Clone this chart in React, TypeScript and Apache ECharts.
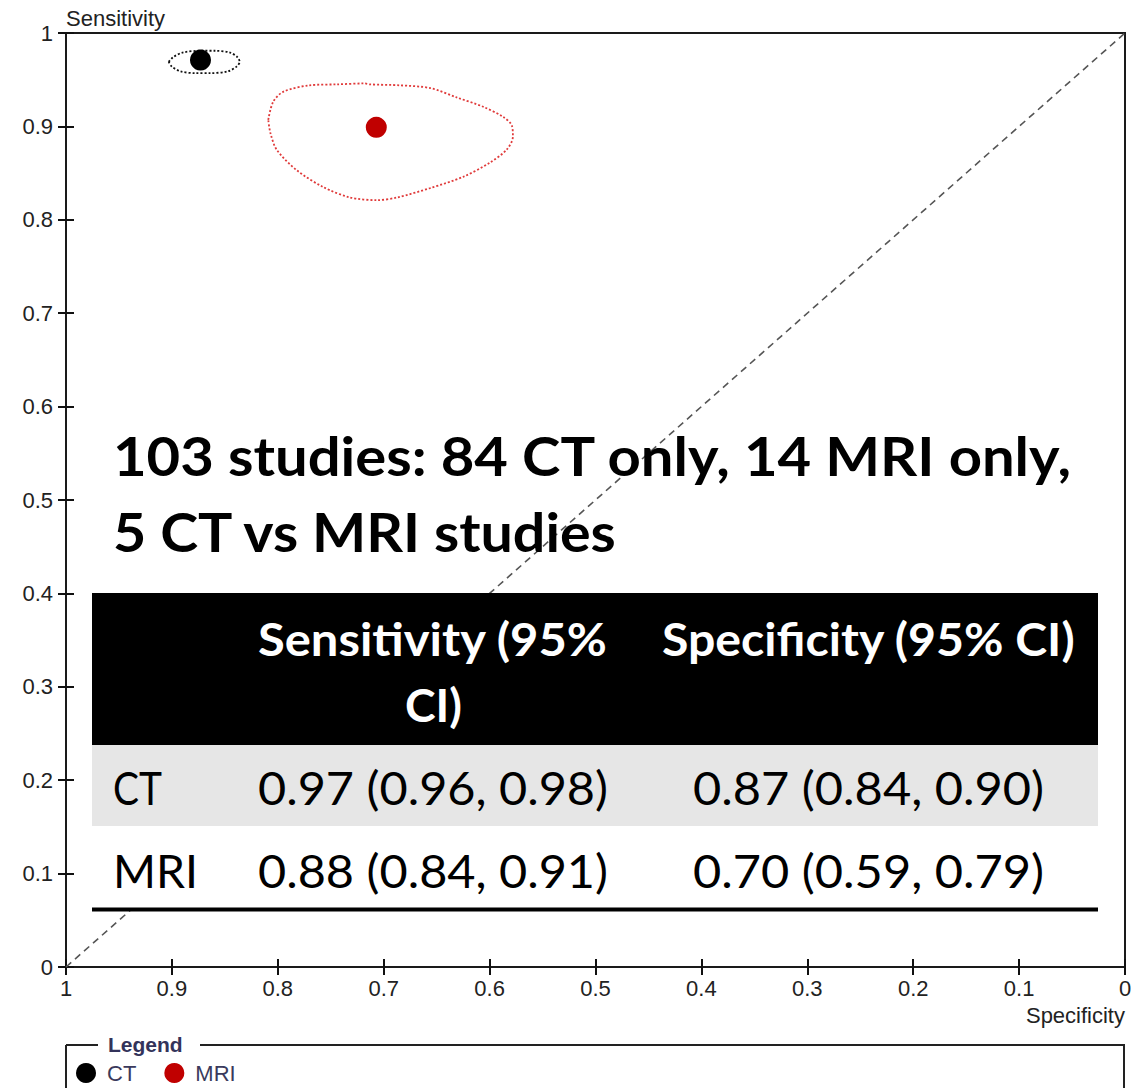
import React, { useEffect, useRef } from "react";
import * as echarts from "echarts";

// ---------- data ----------
const AXIS_TICKS = [0, 0.1, 0.2, 0.3, 0.4, 0.5, 0.6, 0.7, 0.8, 0.9, 1];
const SERIES_NAMES = ["CT", "MRI"];
const CT_POINT = [0.873, 0.971]; // [specificity, sensitivity]
const MRI_POINT = [0.707, 0.899];
const CT_REGION_SPEC = [0.903, 0.899, 0.89, 0.873, 0.859, 0.845, 0.838, 0.836, 0.839, 0.847, 0.864, 0.878, 0.892, 0.9, 0.903];
const CT_REGION_SENS = [0.969, 0.974, 0.979, 0.981, 0.981, 0.979, 0.974, 0.969, 0.964, 0.959, 0.957, 0.957, 0.959, 0.964, 0.969];
const MRI_REGION_SPEC = [0.809, 0.8045, 0.795, 0.77, 0.744, 0.718, 0.713, 0.685, 0.656, 0.631, 0.606, 0.587, 0.579, 0.578, 0.584, 0.6, 0.625, 0.656, 0.687, 0.706, 0.732, 0.757, 0.782, 0.801, 0.807, 0.809];
const MRI_REGION_SENS = [0.907, 0.926, 0.937, 0.944, 0.945, 0.946, 0.945, 0.944, 0.941, 0.931, 0.921, 0.91, 0.901, 0.889, 0.875, 0.861, 0.846, 0.834, 0.824, 0.821, 0.824, 0.835, 0.853, 0.875, 0.893, 0.907];
const DIAGONAL_SPEC = [1, 0];
const DIAGONAL_SENS = [0, 1];
const TITLE_LINES = ["103 studies: 84 CT only, 14 MRI only,", "5 CT vs MRI studies"];
const HEADER_SENS = ["Sensitivity (95%", "CI)"];
const HEADER_SPEC = "Specificity (95% CI)";
const ROW_LABELS = ["CT", "MRI"];
const ROW_SENS = ["0.97 (0.96, 0.98)", "0.88 (0.84, 0.91)"];
const ROW_SPEC = ["0.87 (0.84, 0.90)", "0.70 (0.59, 0.79)"];

// ---------- helpers ----------
const zip = (a: number[], b: number[]) => a.map((v, i) => [v, b[i]]);
let ctx: CanvasRenderingContext2D | null = null;
const measure = (text: string, font: string) => {
  if (!ctx) ctx = document.createElement("canvas").getContext("2d");
  ctx!.font = font;
  return ctx!.measureText(text).width;
};
const fitText = (
  text: string,
  left: number,
  right: number,
  cy: number,
  size: number,
  weight: string,
  color: string
) => {
  const family = "Lato";
  const w = measure(text, `${weight} ${size}px ${family}`) || 1;
  return {
    type: "text",
    x: left,
    y: cy,
    scaleX: (right - left) / w,
    scaleY: 1,
    z: 110,
    style: {
      text,
      x: 0,
      y: 0,
      fill: color,
      fontSize: size,
      fontFamily: family,
      fontWeight: weight,
      align: "left",
      verticalAlign: "middle",
      textAlign: "left",
      textVerticalAlign: "middle",
    },
  };
};
const hline = (x1: number, x2: number, y: number, color: string, w: number) => ({
  type: "line",
  z: 105,
  shape: { x1, y1: y, x2, y2: y },
  style: { stroke: color, lineWidth: w },
});
const vline = (x: number, y1: number, y2: number, color: string, w: number) => ({
  type: "line",
  z: 105,
  shape: { x1: x, y1, x2: x, y2 },
  style: { stroke: color, lineWidth: w },
});

const AXIS_FONT = "'Liberation Sans', Arial, sans-serif";
const fmt = (v: number) => (v === 0 ? "0" : v === 1 ? "1" : v.toFixed(1));

export default function App() {
  const ref = useRef<HTMLDivElement>(null);
  useEffect(() => {
    const chart = echarts.init(ref.current!, null, { renderer: "svg" });
    const baseAxis = {
      type: "value",
      min: AXIS_TICKS[0],
      max: AXIS_TICKS[AXIS_TICKS.length - 1],
      interval: 0.1,
      splitLine: { show: false },
      offset: -8,
      axisLine: { show: false, onZero: false },
      axisTick: { show: true, length: 16, lineStyle: { color: "#111", width: 2 } },
    };
    const option: any = {
      animation: false,
      backgroundColor: "#fff",
      grid: {
        left: 66,
        top: 33,
        width: 1059,
        height: 934,
        show: true,
        borderColor: "#1a1a1a",
        borderWidth: 2,
        backgroundColor: "transparent",
      },
      xAxis: {
        ...baseAxis,
        inverse: true,
        position: "bottom",
        axisLabel: { margin: 18, fontSize: 22, color: "#222", fontFamily: AXIS_FONT, formatter: fmt },
      },
      yAxis: {
        ...baseAxis,
        position: "left",
        axisLabel: { margin: 21, fontSize: 22, color: "#222", fontFamily: AXIS_FONT, formatter: fmt },
      },
      legend: {
        data: SERIES_NAMES,
        left: 71,
        top: 1057,
        orient: "horizontal",
        icon: "circle",
        itemWidth: 20,
        itemHeight: 20,
        itemGap: 28,
        textStyle: { fontSize: 22, color: "#3a3a5c", fontFamily: "'Liberation Sans', Arial, sans-serif", padding: [0, 0, 0, 6] },
      },
      series: [
        {
          type: "line",
          data: zip(DIAGONAL_SPEC, DIAGONAL_SENS),
          symbol: "none",
          silent: true,
          lineStyle: { color: "#555", width: 1.6, type: [7, 5] },
        },
        {
          type: "line",
          data: zip(CT_REGION_SPEC, CT_REGION_SENS),
          symbol: "none",
          smooth: 0.3,
          silent: true,
          lineStyle: { color: "#111", width: 1.8, type: [2, 2] },
        },
        {
          type: "line",
          data: zip(MRI_REGION_SPEC, MRI_REGION_SENS),
          symbol: "none",
          smooth: 0.3,
          silent: true,
          lineStyle: { color: "#e03a3a", width: 1.8, type: [2, 2] },
        },
        {
          name: SERIES_NAMES[0],
          type: "scatter",
          data: [CT_POINT],
          symbol: "circle",
          symbolSize: 21,
          itemStyle: { color: "#000", opacity: 1 },
          z: 5,
        },
        {
          name: SERIES_NAMES[1],
          type: "scatter",
          data: [MRI_POINT],
          symbol: "circle",
          symbolSize: 21,
          itemStyle: { color: "#c00000", opacity: 1 },
          z: 5,
        },
      ],
      graphic: {
        elements: [
          // axis names
          {
            type: "text",
            x: 66,
            y: 18,
            z: 110,
            style: { text: "Sensitivity", fill: "#222", fontSize: 22, fontFamily: AXIS_FONT, align: "left", verticalAlign: "middle", textAlign: "left", textVerticalAlign: "middle" },
          },
          {
            type: "text",
            x: 1125,
            y: 1015,
            z: 110,
            style: { text: "Specificity", fill: "#222", fontSize: 22, fontFamily: AXIS_FONT, align: "right", verticalAlign: "middle", textAlign: "right", textVerticalAlign: "middle" },
          },
          // title
          fitText(TITLE_LINES[0], 113, 1073, 455, 53, "bold", "#000"),
          fitText(TITLE_LINES[1], 113, 619, 532, 53, "bold", "#000"),
          // table background
          { type: "rect", z: 100, shape: { x: 92, y: 593, width: 1006, height: 152 }, style: { fill: "#000" } },
          { type: "rect", z: 100, shape: { x: 92, y: 745, width: 1006, height: 81 }, style: { fill: "#e6e6e6" } },
          { type: "rect", z: 100, shape: { x: 92, y: 826, width: 1006, height: 82 }, style: { fill: "#fff" } },
          hline(92, 1098, 909.5, "#000", 4),
          // header
          fitText(HEADER_SENS[0], 258, 608, 638, 46, "bold", "#fff"),
          fitText(HEADER_SENS[1], 405, 462, 704, 46, "bold", "#fff"),
          fitText(HEADER_SPEC, 662, 1076, 638, 46, "bold", "#fff"),
          // rows
          fitText(ROW_LABELS[0], 113, 162, 787, 46, "normal", "#000"),
          fitText(ROW_SENS[0], 258, 608, 787, 46, "normal", "#000"),
          fitText(ROW_SPEC[0], 693, 1044, 787, 46, "normal", "#000"),
          fitText(ROW_LABELS[1], 113, 198, 870, 46, "normal", "#000"),
          fitText(ROW_SENS[1], 258, 608, 870, 46, "normal", "#000"),
          fitText(ROW_SPEC[1], 693, 1044, 870, 46, "normal", "#000"),
          // legend frame
          vline(66, 1045, 1090, "#222", 2),
          hline(66, 98, 1045, "#222", 2),
          hline(200, 1125, 1045, "#222", 2),
          vline(1124, 1045, 1090, "#222", 2),
          {
            type: "text",
            x: 108,
            y: 1044,
            z: 110,
            style: { text: "Legend", fill: "#33335a", fontSize: 21, fontWeight: "bold", fontFamily: "'Liberation Sans', Arial, sans-serif", align: "left", verticalAlign: "middle", textAlign: "left", textVerticalAlign: "middle" },
          },
        ],
      },
    };
    chart.setOption(option);
    return () => chart.dispose();
  }, []);
  return (
    <div
      ref={ref}
      style={{ position: "absolute", left: 0, top: 0, width: 1147, height: 1088, background: "#fff" }}
    />
  );
}
